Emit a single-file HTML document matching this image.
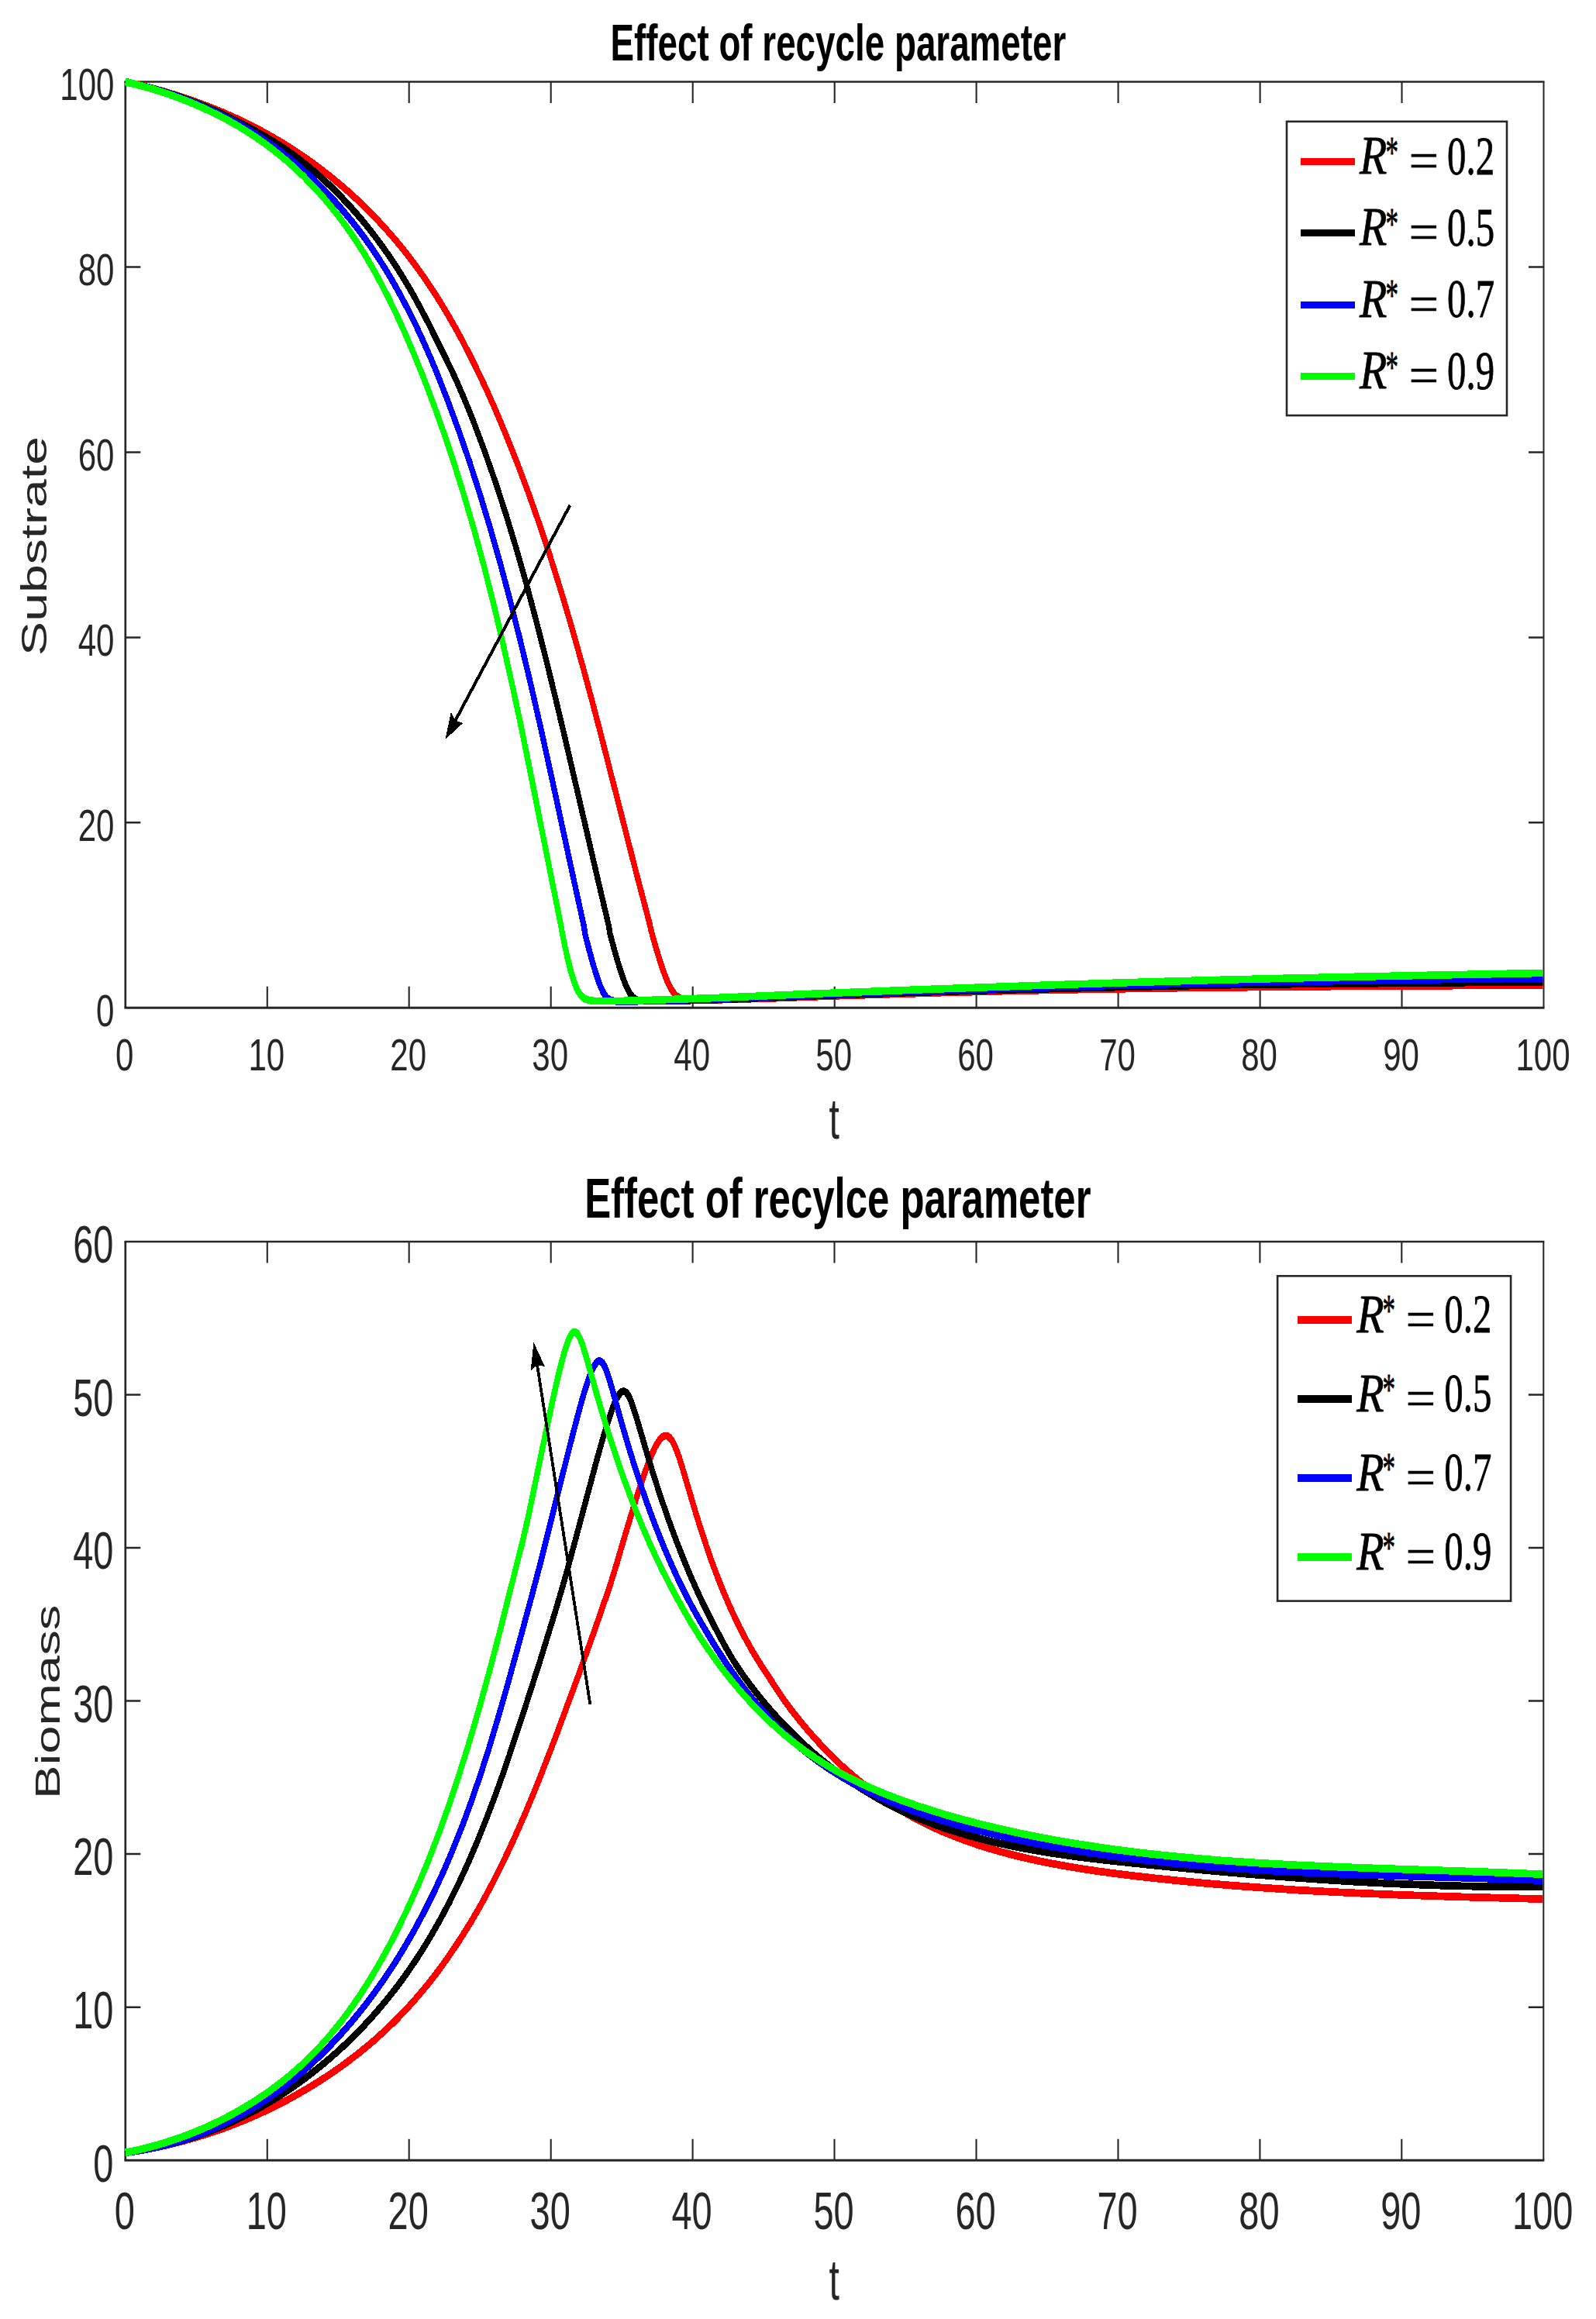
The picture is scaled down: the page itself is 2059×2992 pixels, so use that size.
<!DOCTYPE html>
<html lang="en"><head><meta charset="utf-8"><title>Effect of recycle parameter</title>
<style>html,body{margin:0;padding:0;background:#fff}svg{display:block}text{font-family:"Liberation Sans",Arial,Helvetica,sans-serif;fill:#262626}.ser{font-family:"Liberation Serif","Times New Roman",serif;fill:#000;stroke:#000;stroke-width:0.8px}.ttl{font-weight:bold;fill:#000}</style></head><body>
<svg width="2059" height="2992" viewBox="0 0 2059 2992">
<rect width="2059" height="2992" fill="#fff"/>
<g id="plot1">
<path d="M344.8 1300.3V1272.8M344.8 105.5V133.0M527.7 1300.3V1272.8M527.7 105.5V133.0M710.7 1300.3V1272.8M710.7 105.5V133.0M893.7 1300.3V1272.8M893.7 105.5V133.0M1076.7 1300.3V1272.8M1076.7 105.5V133.0M1259.6 1300.3V1272.8M1259.6 105.5V133.0M1442.6 1300.3V1272.8M1442.6 105.5V133.0M1625.6 1300.3V1272.8M1625.6 105.5V133.0M1808.5 1300.3V1272.8M1808.5 105.5V133.0" stroke="#262626" stroke-width="2.1" fill="none"/>
<path d="M161.8 1061.3H181.3M1991.5 1061.3H1972.0M161.8 822.4H181.3M1991.5 822.4H1972.0M161.8 583.4H181.3M1991.5 583.4H1972.0M161.8 344.5H181.3M1991.5 344.5H1972.0" stroke="#262626" stroke-width="2.5" fill="none"/>
<path d="M160.5 105.5H1992.5" stroke="#262626" stroke-width="2.7" fill="none"/>
<path d="M1991.5 105.5V1300.3" stroke="#262626" stroke-width="2.0" fill="none"/>
<path d="M161.8 105.5V1300.3" stroke="#262626" stroke-width="2.7" fill="none"/>
<path d="M160.5 1300.3H1992.5" stroke="#262626" stroke-width="3.0" fill="none"/>
<clipPath id="c1"><rect x="155.8" y="97.5" width="1834.6" height="1202.8"/></clipPath>
<g clip-path="url(#c1)"><g fill="none" stroke-linejoin="round" stroke-width="9.6" shape-rendering="crispEdges" transform="scale(0.75 1)">
<path d="M215.7 105.5L238.2 109.4L259.9 113.5L281.5 118L303 122.9L324.3 128.1L344.7 133.6L365.6 139.6L385.7 145.8L405.5 152.4L424.4 159.2L443.1 166.3L461.5 173.8L479.6 181.6L497.4 189.8L514.8 198.3L532 207.2L548.8 216.4L565.7 226.2L582.3 236.4L598.5 246.8L614.3 257.6L629.8 268.7L644.8 280.2L659.4 291.9L673.2 303.5L687 315.7L700.4 328.3L713.3 341L726.2 354.5L738.7 368.1L751.1 382.4L763.4 397.3L774.3 411.2L785 425.3L795.6 439.9L805.8 454.7L816.1 470L826.6 486.4L837.1 503.2L847.5 520.7L858.3 539.5L868.9 558.4L889.6 597.2L909.8 637.7L929.5 679.8L947.8 721.3L966.1 765.3L984.4 811.7L1003.2 862L1017.3 901L1032.3 943.8L1092.6 1120.8L1118.5 1194.8L1119.3 1198.8L1128.2 1222.5L1134 1236.8L1139.7 1250L1144.9 1260.5L1149.3 1268.6L1153.8 1275.3L1157.6 1279.9L1162.1 1283.9L1166.6 1286.6L1169.8 1287.8L1173 1288.7L1176.8 1289.4L1181.9 1289.8L1194.7 1290.2L1220.9 1290L1256.7 1289.5L1324.1 1288L1436.2 1284.9L1609 1280.9L1739.8 1278.4L1875.3 1276.4L2043.4 1274.5L2234.9 1273L2421.8 1272L2655.3 1271.1" stroke="#ff0000"/>
<path d="M215.7 105.5L236.5 109.2L256.6 113.1L276.8 117.4L296.3 122L315.8 126.9L334.6 132.1L353.2 137.6L371.6 143.4L389.9 149.7L406.8 155.9L427.3 164L448.5 172.9L465.5 180.4L480.6 187.4L494.9 194.6L508.9 202.2L523.6 210.7L538 219.5L552 228.7L566.2 238.6L580 248.7L593.5 259.2L606.5 269.9L619.7 281.2L632.4 292.8L645.1 305L657.3 317.5L669.2 330.1L680.9 343.3L692.2 356.7L703 370.2L713.7 384.2L724.5 399.2L736.1 415.9L769.6 466.5L783.9 489.1L797.5 512.5L806.6 529.2L816.4 547.7L835 585.1L853.2 624.1L870.8 664.9L888.1 707.7L905.3 753L922.6 801.6L941 855.9L955.7 901.2L971.8 952L1026.1 1127.3L1047.7 1196.2L1048.5 1202.7L1049.1 1204.4L1056.7 1225.2L1062.9 1241.4L1069.2 1256.3L1074.2 1266.8L1078.6 1274.7L1083 1281L1084.9 1283.2L1087.4 1285.6L1089.3 1287L1091.8 1288.4L1094.9 1289.7L1098.1 1290.5L1101.8 1291L1106.9 1291.3L1123.2 1291.5L1161.5 1291.2L1205 1290.4L1239.4 1289.6L1431.2 1283.9L1573.7 1280.3L1726.1 1277.1L1898.2 1274L2065.4 1271.4L2163.7 1270.1L2655.3 1266.8" stroke="#000000"/>
<path d="M215.7 105.5L236 109.1L255.5 113.1L275 117.3L294.4 122L313.6 127.1L332.1 132.3L350.3 137.9L368.3 143.9L385.4 150L401.2 156.1L416.8 162.5L432 169.2L446.5 176.1L461.2 183.6L475.6 191.4L490.6 200.1L506.8 209.9L521.1 219.2L535.6 229L549.6 239.2L563.7 249.9L577.4 261L590.7 272.4L603.6 284L616 295.8L628 307.9L639.9 320.6L651.4 333.5L662.8 347.1L674.1 361.2L684.9 375.5L695.6 390.4L705.2 404.2L714.4 418.2L723.8 433.2L732.8 448.3L741.9 463.9L751.1 480.5L769.3 515.2L788.8 555L807.6 595.8L825.8 638.2L843.5 682.1L860.9 728L878.1 776.2L895.3 827.4L912.8 882.2L930.9 941.7L951.7 1012.6L987 1135.3L1005 1196.9L1005.8 1203.5L1013.2 1224.9L1019.3 1241.7L1024.9 1255.6L1029.8 1266.7L1034.1 1274.9L1038.4 1281.5L1040.3 1283.7L1042.7 1286.2L1044.6 1287.6L1047 1289.1L1049.5 1290.1L1052.6 1290.9L1056.3 1291.5L1060.6 1291.8L1076 1291.9L1109.2 1291.6L1241.4 1288.2L1433.9 1282.7L1606.3 1278.2L1748.2 1274.9L1900.2 1271.7L2072.5 1268.6L2204.3 1266.7L2427.3 1264.2L2655.3 1262.1" stroke="#0000ff"/>
<path d="M215.7 105.5L234.8 109L253.2 112.8L272 117L290 121.5L307.9 126.4L325.5 131.5L342.9 137.1L360.1 143L377 149.2L393.1 155.6L408.9 162.3L424.3 169.4L439.5 176.8L453.8 184.2L467.8 192L481.8 200.4L495.5 209.1L508.9 218L521.8 227.3L534.4 236.9L547.1 247.1L559.3 257.5L571.1 268.2L583 279.5L594 290.7L605 302.4L615.6 314.4L626.2 327L636.7 340.2L646.7 353.5L656.7 367.5L666.9 382.4L676.8 397.4L686.5 413.1L696.2 429.2L706.3 446.7L716.6 465.2L726.8 484.1L736.6 503.1L746.4 522.7L764.9 561.5L782.6 601.5L799.8 643.1L816.5 686.2L832.8 731.4L848.9 778.9L864.7 828.9L880.9 883.1L894.1 929.4L908.1 980.7L965.5 1196.7L968 1207.3L972.3 1222.7L976.5 1237L980.2 1248.2L983.8 1258.1L987.4 1266.6L990.5 1272.6L993.5 1277.6L997.2 1282.2L1000.8 1285.5L1005.1 1288.1L1008.7 1289.5L1013 1290.5L1017.8 1291.1L1024.5 1291.5L1053.1 1291.6L1095 1291L1234 1287.4L1431.9 1281.2L1582.8 1276.8L1785.9 1271.4L1921.3 1268.1L2072.2 1264.8L2218 1262.1L2441.9 1258.5L2655.3 1255.4" stroke="#00ff00"/>
</g></g>
<text class="" transform="translate(160.8 1380.5) scale(0.7250 1)" font-size="58.0" text-anchor="middle">0</text>
<text class="" transform="translate(343.8 1380.5) scale(0.7250 1)" font-size="58.0" text-anchor="middle">10</text>
<text class="" transform="translate(526.7 1380.5) scale(0.7250 1)" font-size="58.0" text-anchor="middle">20</text>
<text class="" transform="translate(709.7 1380.5) scale(0.7250 1)" font-size="58.0" text-anchor="middle">30</text>
<text class="" transform="translate(892.7 1380.5) scale(0.7250 1)" font-size="58.0" text-anchor="middle">40</text>
<text class="" transform="translate(1075.7 1380.5) scale(0.7250 1)" font-size="58.0" text-anchor="middle">50</text>
<text class="" transform="translate(1258.6 1380.5) scale(0.7250 1)" font-size="58.0" text-anchor="middle">60</text>
<text class="" transform="translate(1441.6 1380.5) scale(0.7250 1)" font-size="58.0" text-anchor="middle">70</text>
<text class="" transform="translate(1624.6 1380.5) scale(0.7250 1)" font-size="58.0" text-anchor="middle">80</text>
<text class="" transform="translate(1807.5 1380.5) scale(0.7250 1)" font-size="58.0" text-anchor="middle">90</text>
<text class="" transform="translate(1990.5 1380.5) scale(0.7250 1)" font-size="58.0" text-anchor="middle">100</text>
<text class="" transform="translate(147.4 1323.6) scale(0.7250 1)" font-size="58.0" text-anchor="end">0</text>
<text class="" transform="translate(147.4 1084.6) scale(0.7250 1)" font-size="58.0" text-anchor="end">20</text>
<text class="" transform="translate(147.4 845.7) scale(0.7250 1)" font-size="58.0" text-anchor="end">40</text>
<text class="" transform="translate(147.4 606.7) scale(0.7250 1)" font-size="58.0" text-anchor="end">60</text>
<text class="" transform="translate(147.4 367.8) scale(0.7250 1)" font-size="58.0" text-anchor="end">80</text>
<text class="" transform="translate(147.4 128.8) scale(0.7250 1)" font-size="58.0" text-anchor="end">100</text>
<text class="ttl" transform="translate(1081.4 78.1) scale(0.6960 1)" font-size="65.8" text-anchor="middle">Effect of recycle parameter</text>
<text class="" transform="translate(1076.3 1468.6) scale(0.6500 1)" font-size="74.0" text-anchor="middle">t</text>
<text transform="translate(60.3 704.5) rotate(-90) scale(1 0.703)" font-size="66.1" text-anchor="middle">Substrate</text>
</g>
<g id="plot2">
<path d="M344.8 2787.2V2759.7M344.8 1602.0V1629.5M527.7 2787.2V2759.7M527.7 1602.0V1629.5M710.7 2787.2V2759.7M710.7 1602.0V1629.5M893.6 2787.2V2759.7M893.6 1602.0V1629.5M1076.5 2787.2V2759.7M1076.5 1602.0V1629.5M1259.5 2787.2V2759.7M1259.5 1602.0V1629.5M1442.5 2787.2V2759.7M1442.5 1602.0V1629.5M1625.4 2787.2V2759.7M1625.4 1602.0V1629.5M1808.3 2787.2V2759.7M1808.3 1602.0V1629.5" stroke="#262626" stroke-width="2.1" fill="none"/>
<path d="M161.8 2589.7H181.3M1991.3 2589.7H1971.8M161.8 2392.1H181.3M1991.3 2392.1H1971.8M161.8 2194.6H181.3M1991.3 2194.6H1971.8M161.8 1997.1H181.3M1991.3 1997.1H1971.8M161.8 1799.5H181.3M1991.3 1799.5H1971.8" stroke="#262626" stroke-width="2.5" fill="none"/>
<path d="M160.5 1602.0H1992.3" stroke="#262626" stroke-width="2.7" fill="none"/>
<path d="M1991.3 1602.0V2787.2" stroke="#262626" stroke-width="2.0" fill="none"/>
<path d="M161.8 1602.0V2787.2" stroke="#262626" stroke-width="2.7" fill="none"/>
<path d="M160.5 2787.2H1992.3" stroke="#262626" stroke-width="3.0" fill="none"/>
<clipPath id="c2"><rect x="155.8" y="1594.0" width="1834.4" height="1193.2"/></clipPath>
<g clip-path="url(#c2)"><g fill="none" stroke-linejoin="round" stroke-width="9.7" shape-rendering="crispEdges" transform="scale(0.75 1)">
<path d="M215.7 2777.3L230.7 2775.7L250.6 2773.1L270.5 2770.2L290.3 2766.9L310 2763.3L329.7 2759.2L349.2 2754.8L368.6 2750.1L387.9 2745L407 2739.5L425.9 2733.7L444.7 2727.6L463.3 2721.1L481.6 2714.3L499.7 2707.1L517.5 2699.6L535.1 2691.8L552.4 2683.7L569.4 2675.3L586.1 2666.6L602.5 2657.5L618.5 2648.2L634.2 2638.5L645.7 2631.1L660.7 2620.9L675.3 2610.5L686 2602.5L699.9 2591.5L713.3 2580.3L726.4 2568.9L739.1 2557.2L751.4 2545.3L760.4 2536.2L772.1 2523.8L791.8 2501.8L810.5 2479.2L820.8 2466L830.8 2452.7L850 2425.7L868.2 2398.1L885.6 2370.2L904.2 2338.3L916.1 2316.9L927.7 2295.4L953.7 2245.1L992.6 2166.4L1023.2 2102.5L1044.8 2055.6L1050.7 2042.1L1059.6 2020.6L1077.5 1974.9L1092.1 1939L1103.5 1912.3L1113.1 1891.7L1117.6 1882.9L1122.1 1874.9L1126.3 1868.2L1130.1 1862.9L1134 1858.5L1137.2 1855.6L1140.4 1853.6L1142.3 1852.9L1144 1852.5L1146.8 1852.6L1149.2 1853.3L1151.3 1854.5L1154 1856.6L1156.4 1859.3L1159 1862.8L1161.5 1867L1164.2 1872L1168 1879.8L1172.3 1890L1198.7 1956.8L1207.1 1976.7L1215.4 1995.6L1225 2016.2L1234.6 2035.4L1244.3 2053.5L1254.5 2071.4L1263.5 2086.1L1272.5 2100L1281.5 2113L1291.1 2126L1298.8 2135.9L1307.1 2146L1340 2183.8L1350.1 2195L1361.1 2206.1L1376.9 2221.1L1390 2232.9L1406.9 2247.1L1420.8 2258.2L1435.1 2268.9L1449.8 2279.4L1464.8 2289.4L1480.3 2299.1L1496.1 2308.4L1512.3 2317.3L1528.8 2325.8L1545.7 2333.9L1563 2341.5L1576.2 2346.9L1589.7 2352.1L1607.8 2358.6L1626.3 2364.7L1645.1 2370.3L1664.2 2375.6L1683.5 2380.6L1703 2385.1L1722.8 2389.4L1742.7 2393.3L1767.9 2397.9L1788.2 2401.2L1813.7 2405L1839.3 2408.4L1865 2411.6L1890.8 2414.5L1921.8 2417.6L1957.8 2420.9L1993.6 2423.9L2034.2 2427L2074.6 2429.9L2114.8 2432.4L2154.9 2434.7L2234.6 2438.7L2319.3 2442L2409.3 2444.8L2510.4 2447.3L2655.1 2450.2" stroke="#ff0000"/>
<path d="M215.7 2777.3L231.7 2775.6L252.8 2772.9L268.5 2770.5L289.2 2766.9L304.6 2763.8L324.8 2759.2L339.9 2755.5L359.7 2750.1L374.4 2745.7L393.7 2739.4L408.1 2734.5L426.9 2727.4L440.8 2721.9L459.1 2714.1L477.1 2705.9L494.8 2697.3L507.8 2690.6L524.8 2681.4L541.6 2671.7L557.9 2661.8L569.9 2654.1L585.6 2643.6L601 2632.7L615.9 2621.6L626.8 2613L641 2601.4L654.8 2589.5L668.2 2577.3L681.2 2564.9L693.7 2552.3L705.7 2539.5L717.4 2526.5L725.9 2516.6L736.9 2503.2L755.2 2479.4L772.5 2455.1L788.8 2430.3L804.3 2405.2L821 2376L836.7 2346.5L853.6 2313L864.3 2290.5L874.7 2267.9L898.1 2215L928.7 2143.6L954.9 2079.9L965.2 2053.6L976.1 2025L1025.5 1886.6L1036.4 1857.4L1045.1 1835.8L1053.1 1818L1056.9 1810.9L1060.1 1805.5L1063.3 1801.2L1066.3 1798L1069.1 1796L1071.8 1795.1L1073.6 1795.1L1075.5 1795.7L1077.4 1796.9L1079.4 1798.6L1081.3 1801L1083.2 1803.9L1087.3 1811.5L1094.8 1828.8L1111.4 1871.4L1120.4 1893.7L1128.7 1913.5L1137.1 1932.6L1147.3 1955.1L1157.6 1976.4L1168.5 1997.9L1179.4 2018.3L1189 2035.4L1198.6 2051.7L1208.9 2068.3L1219.2 2084L1229.4 2099L1246.7 2123.2L1256.4 2136L1265.3 2147L1275.6 2158.5L1291.1 2174.5L1307.4 2190.1L1320.9 2202.3L1338.4 2217.2L1352.9 2228.7L1367.8 2239.9L1383.1 2250.8L1402.7 2263.9L1418.9 2273.9L1435.4 2283.6L1452.3 2292.9L1469.6 2301.8L1487.2 2310.3L1505.1 2318.3L1523.4 2326L1542 2333.1L1556.1 2338.2L1575.2 2344.5L1594.6 2350.4L1609.3 2354.5L1629.1 2359.7L1649.2 2364.5L1669.4 2368.9L1689.8 2373L1710.4 2376.8L1731.2 2380.2L1757.3 2384.2L1783.6 2387.8L1810.1 2391L1836.6 2393.9L1863.2 2396.6L1900.5 2399.9L1948.3 2403.8L2016.9 2409L2084.7 2413.8L2141.8 2417.6L2193.5 2420.7L2245.1 2423.6L2291.5 2426L2338 2428.1L2384.7 2429.9L2431.6 2431.4L2478.7 2432.7L2526.2 2433.6L2568.8 2434.1L2611.7 2434.4L2655.1 2434.4" stroke="#000000"/>
<path d="M215.7 2777.3L232.7 2775.5L249.4 2773.4L265.9 2770.9L287.4 2767L303.3 2763.7L319 2760L334.4 2756L354.6 2750.2L369.5 2745.4L384.1 2740.4L398.5 2735L417.3 2727.5L431.2 2721.4L449.3 2713L462.6 2706.4L479.9 2697.1L492.7 2689.9L509.3 2679.9L521.6 2672.2L537.5 2661.5L549.2 2653.2L564.4 2641.9L579.2 2630.3L593.7 2618.3L607.7 2606L621.3 2593.5L634.6 2580.7L647.4 2567.6L659.9 2554.4L672 2540.9L683.7 2527.2L695 2513.4L713.8 2488.9L731.5 2463.9L748.2 2438.6L763.9 2412.9L778.7 2386.9L794.7 2356.9L809.6 2326.5L825.5 2292.1L840.4 2257.3L856 2218.4L872.4 2175.5L892.5 2120.7L915.6 2056.7L927.8 2021.8L981.6 1861.3L992.8 1829.1L1001.4 1805.6L1006.3 1793.3L1010.5 1783.4L1014.3 1775.3L1018.1 1768.3L1021.4 1763.2L1024.6 1759.4L1026.2 1758L1027.8 1756.9L1030.4 1756L1032.3 1756.1L1034.2 1756.8L1036.1 1758.1L1037.4 1759.5L1039.3 1761.9L1041.2 1764.9L1045.1 1772.5L1052 1789.3L1067.9 1832.2L1076.5 1854.6L1085.2 1876.2L1093.9 1897L1104.1 1920.3L1114.4 1942.4L1125.3 1964.5L1136.2 1985.4L1146 2003.1L1156.1 2020.5L1166.3 2037.2L1177.2 2053.9L1186.9 2068L1196.5 2081.1L1207.4 2095.4L1223.8 2116.2L1235.3 2130.1L1250.2 2147.1L1265.8 2163.9L1278.7 2177L1292.2 2189.8L1306.1 2202.3L1320.5 2214.4L1335.4 2226.2L1350.8 2237.5L1366.8 2248.4L1383.2 2258.8L1395.9 2266.2L1413.3 2275.7L1431.2 2284.7L1449.5 2293.2L1468.1 2301.3L1487.2 2308.8L1506.5 2316L1526.1 2322.7L1551 2330.4L1571.1 2336.2L1596.6 2342.9L1622.3 2349.1L1648.2 2354.9L1674.3 2360.1L1705.8 2366L1737.4 2371.4L1769.1 2376.4L1800.9 2381L1838 2385.9L1869.9 2389.8L1907.2 2393.9L1939.2 2397.1L1971.3 2400L2003.4 2402.7L2040.9 2405.4L2073.1 2407.6L2110.6 2409.8L2185.9 2413.5L2256 2416.2L2331.5 2418.5L2407 2420.3L2574.3 2424L2655.1 2426.1" stroke="#0000ff"/>
<path d="M215.7 2777.3L231.9 2774.8L248 2772L269.4 2767.7L285.3 2764.2L306.5 2758.9L322.2 2754.6L337.8 2749.9L353.3 2745L373.6 2737.9L388.7 2732.2L403.5 2726.3L418.1 2720L437.2 2711.2L451.2 2704.3L465 2697.1L478.4 2689.6L491.6 2681.9L504.3 2673.8L516.8 2665.5L528.9 2656.9L540.6 2648.1L552 2639.1L563 2629.8L577.2 2617.1L587.5 2607.3L597.5 2597.3L607.2 2587.2L619.7 2573.5L628.8 2563L640.5 2548.8L651.8 2534.3L662.7 2519.7L673.2 2505L683.3 2490.1L693.1 2475.1L702.7 2460L720.8 2429.6L737.8 2398.7L755.7 2363.7L772.6 2328.3L788.4 2292.7L805.1 2252.8L814.6 2228.8L825.5 2200.7L846.1 2144.3L862.9 2095.9L899.5 1986.8L909.1 1955.3L937.5 1852.9L949.8 1809.6L958.3 1781.1L965.4 1759.1L971.9 1741.5L975.1 1734.2L977.7 1729L980.3 1724.9L982.9 1721.6L985.4 1719.5L986.7 1718.9L987.8 1718.7L989.5 1718.7L991.2 1719.3L992.9 1720.6L994.4 1722L997.8 1727L1001.7 1734.6L1008.5 1751L1024.9 1794.5L1034.1 1818.4L1042.6 1839.3L1051.4 1860.3L1062.4 1885L1073.2 1908.3L1084.2 1930.4L1095.7 1952.6L1106 1971.3L1116.2 1989L1126.5 2005.9L1137.4 2022.9L1147.9 2038.5L1161.1 2057.1L1177.1 2078.8L1188.7 2093.8L1200.5 2108.1L1212.7 2122.1L1228.7 2139.2L1241.9 2152.7L1259.2 2169L1273.5 2181.8L1288.2 2194.2L1303.5 2206.3L1319.3 2218L1335.6 2229.3L1352.4 2240.1L1369.6 2250.5L1387.4 2260.5L1405.7 2269.8L1419.6 2276.5L1438.6 2284.9L1458 2292.7L1477.8 2300L1497.9 2306.8L1523.4 2314.8L1549.2 2322.3L1575.3 2329.2L1601.7 2335.7L1628.3 2341.8L1655.1 2347.5L1687.5 2353.8L1720 2359.6L1752.6 2365L1785.3 2370L1818.1 2374.6L1850.9 2378.8L1889.3 2383.2L1922.3 2386.7L1955.3 2389.8L1988.4 2392.7L2021.6 2395.2L2054.7 2397.5L2093.5 2400L2165.6 2403.7L2232.3 2406.4L2304.6 2408.8L2377 2410.8L2555.1 2415.2L2655.1 2418.2" stroke="#00ff00"/>
</g></g>
<text class="" transform="translate(160.8 2876.3) scale(0.6850 1)" font-size="68.6" text-anchor="middle">0</text>
<text class="" transform="translate(343.8 2876.3) scale(0.6850 1)" font-size="68.6" text-anchor="middle">10</text>
<text class="" transform="translate(526.7 2876.3) scale(0.6850 1)" font-size="68.6" text-anchor="middle">20</text>
<text class="" transform="translate(709.7 2876.3) scale(0.6850 1)" font-size="68.6" text-anchor="middle">30</text>
<text class="" transform="translate(892.6 2876.3) scale(0.6850 1)" font-size="68.6" text-anchor="middle">40</text>
<text class="" transform="translate(1075.5 2876.3) scale(0.6850 1)" font-size="68.6" text-anchor="middle">50</text>
<text class="" transform="translate(1258.5 2876.3) scale(0.6850 1)" font-size="68.6" text-anchor="middle">60</text>
<text class="" transform="translate(1441.5 2876.3) scale(0.6850 1)" font-size="68.6" text-anchor="middle">70</text>
<text class="" transform="translate(1624.4 2876.3) scale(0.6850 1)" font-size="68.6" text-anchor="middle">80</text>
<text class="" transform="translate(1807.3 2876.3) scale(0.6850 1)" font-size="68.6" text-anchor="middle">90</text>
<text class="" transform="translate(1990.3 2876.3) scale(0.6850 1)" font-size="68.6" text-anchor="middle">100</text>
<text class="" transform="translate(146.4 2814.5) scale(0.6850 1)" font-size="68.6" text-anchor="end">0</text>
<text class="" transform="translate(146.4 2617.0) scale(0.6850 1)" font-size="68.6" text-anchor="end">10</text>
<text class="" transform="translate(146.4 2419.4) scale(0.6850 1)" font-size="68.6" text-anchor="end">20</text>
<text class="" transform="translate(146.4 2221.9) scale(0.6850 1)" font-size="68.6" text-anchor="end">30</text>
<text class="" transform="translate(146.4 2024.4) scale(0.6850 1)" font-size="68.6" text-anchor="end">40</text>
<text class="" transform="translate(146.4 1826.8) scale(0.6850 1)" font-size="68.6" text-anchor="end">50</text>
<text class="" transform="translate(146.4 1629.3) scale(0.6850 1)" font-size="68.6" text-anchor="end">60</text>
<text class="ttl" transform="translate(1080.8 1571.1) scale(0.7020 1)" font-size="72.5" text-anchor="middle">Effect of recylce parameter</text>
<text class="" transform="translate(1076.3 2966.6) scale(0.6500 1)" font-size="74.0" text-anchor="middle">t</text>
<text transform="translate(76.7 2195.7) rotate(-90) scale(1 0.677)" font-size="65.3" text-anchor="middle">Biomass</text>
</g>
<g shape-rendering="crispEdges" transform="scale(0.75 1)">
<path d="M980.4 652.0L783.2 929.7" stroke="#000" stroke-width="5.0" fill="none"/><path d="M766.0 953.9L775.8 918.5L783.2 929.7L796.2 933.0Z" fill="#000"/>
<path d="M1015.2 2199.1L924.0 1761.0" stroke="#000" stroke-width="5.0" fill="none"/><path d="M918.0 1732.0L937.3 1763.2L924.0 1761.0L912.8 1768.3Z" fill="#000"/>
</g>
<rect x="1660.0" y="156.8" width="284.0" height="379.2" fill="#fff" stroke="#262626" stroke-width="2.6"/>
<path d="M1678.0 208.4H1748.1" stroke="#ff0000" stroke-width="9.0" shape-rendering="crispEdges"/>
<text class="ser" font-style="italic" transform="translate(1754.0 224.0) scale(0.824 1)" font-size="70.3">R</text>
<text class="ser" transform="translate(1787.4 215.5) scale(0.58 1)" font-size="57">*</text>
<text class="ser" style="stroke-width:0.45px" transform="translate(1817.4 230.2) scale(1.01 1)" font-size="68">=</text>
<text class="ser" transform="translate(1867.1 224.5) scale(0.698 1)" font-size="69.9">0.2</text>
<path d="M1678.0 300.6H1748.1" stroke="#000000" stroke-width="9.0" shape-rendering="crispEdges"/>
<text class="ser" font-style="italic" transform="translate(1754.0 316.2) scale(0.824 1)" font-size="70.3">R</text>
<text class="ser" transform="translate(1787.4 307.7) scale(0.58 1)" font-size="57">*</text>
<text class="ser" style="stroke-width:0.45px" transform="translate(1817.4 322.4) scale(1.01 1)" font-size="68">=</text>
<text class="ser" transform="translate(1867.1 316.7) scale(0.698 1)" font-size="69.9">0.5</text>
<path d="M1678.0 393.0H1748.1" stroke="#0000ff" stroke-width="9.0" shape-rendering="crispEdges"/>
<text class="ser" font-style="italic" transform="translate(1754.0 408.6) scale(0.824 1)" font-size="70.3">R</text>
<text class="ser" transform="translate(1787.4 400.1) scale(0.58 1)" font-size="57">*</text>
<text class="ser" style="stroke-width:0.45px" transform="translate(1817.4 414.8) scale(1.01 1)" font-size="68">=</text>
<text class="ser" transform="translate(1867.1 409.1) scale(0.698 1)" font-size="69.9">0.7</text>
<path d="M1678.0 485.4H1748.1" stroke="#00ff00" stroke-width="9.0" shape-rendering="crispEdges"/>
<text class="ser" font-style="italic" transform="translate(1754.0 501.0) scale(0.824 1)" font-size="70.3">R</text>
<text class="ser" transform="translate(1787.4 492.5) scale(0.58 1)" font-size="57">*</text>
<text class="ser" style="stroke-width:0.45px" transform="translate(1817.4 507.2) scale(1.01 1)" font-size="68">=</text>
<text class="ser" transform="translate(1867.1 501.5) scale(0.698 1)" font-size="69.9">0.9</text>
<rect x="1648.1" y="1646.3" width="301.0" height="419.3" fill="#fff" stroke="#262626" stroke-width="2.6"/>
<path d="M1673.9 1702.9H1744.1" stroke="#ff0000" stroke-width="9.4" shape-rendering="crispEdges"/>
<text class="ser" font-style="italic" transform="translate(1750.2 1718.8) scale(0.824 1)" font-size="70.3">R</text>
<text class="ser" transform="translate(1783.6 1710.3) scale(0.58 1)" font-size="57">*</text>
<text class="ser" style="stroke-width:0.45px" transform="translate(1813.6 1725.0) scale(1.01 1)" font-size="68">=</text>
<text class="ser" transform="translate(1863.3 1719.3) scale(0.698 1)" font-size="69.9">0.2</text>
<path d="M1673.9 1804.9H1744.1" stroke="#000000" stroke-width="9.4" shape-rendering="crispEdges"/>
<text class="ser" font-style="italic" transform="translate(1750.2 1820.8) scale(0.824 1)" font-size="70.3">R</text>
<text class="ser" transform="translate(1783.6 1812.3) scale(0.58 1)" font-size="57">*</text>
<text class="ser" style="stroke-width:0.45px" transform="translate(1813.6 1827.0) scale(1.01 1)" font-size="68">=</text>
<text class="ser" transform="translate(1863.3 1821.3) scale(0.698 1)" font-size="69.9">0.5</text>
<path d="M1673.9 1906.9H1744.1" stroke="#0000ff" stroke-width="9.4" shape-rendering="crispEdges"/>
<text class="ser" font-style="italic" transform="translate(1750.2 1922.8) scale(0.824 1)" font-size="70.3">R</text>
<text class="ser" transform="translate(1783.6 1914.3) scale(0.58 1)" font-size="57">*</text>
<text class="ser" style="stroke-width:0.45px" transform="translate(1813.6 1929.0) scale(1.01 1)" font-size="68">=</text>
<text class="ser" transform="translate(1863.3 1923.3) scale(0.698 1)" font-size="69.9">0.7</text>
<path d="M1673.9 2009.0H1744.1" stroke="#00ff00" stroke-width="9.4" shape-rendering="crispEdges"/>
<text class="ser" font-style="italic" transform="translate(1750.2 2024.9) scale(0.824 1)" font-size="70.3">R</text>
<text class="ser" transform="translate(1783.6 2016.4) scale(0.58 1)" font-size="57">*</text>
<text class="ser" style="stroke-width:0.45px" transform="translate(1813.6 2031.1) scale(1.01 1)" font-size="68">=</text>
<text class="ser" transform="translate(1863.3 2025.4) scale(0.698 1)" font-size="69.9">0.9</text>
</svg></body></html>
